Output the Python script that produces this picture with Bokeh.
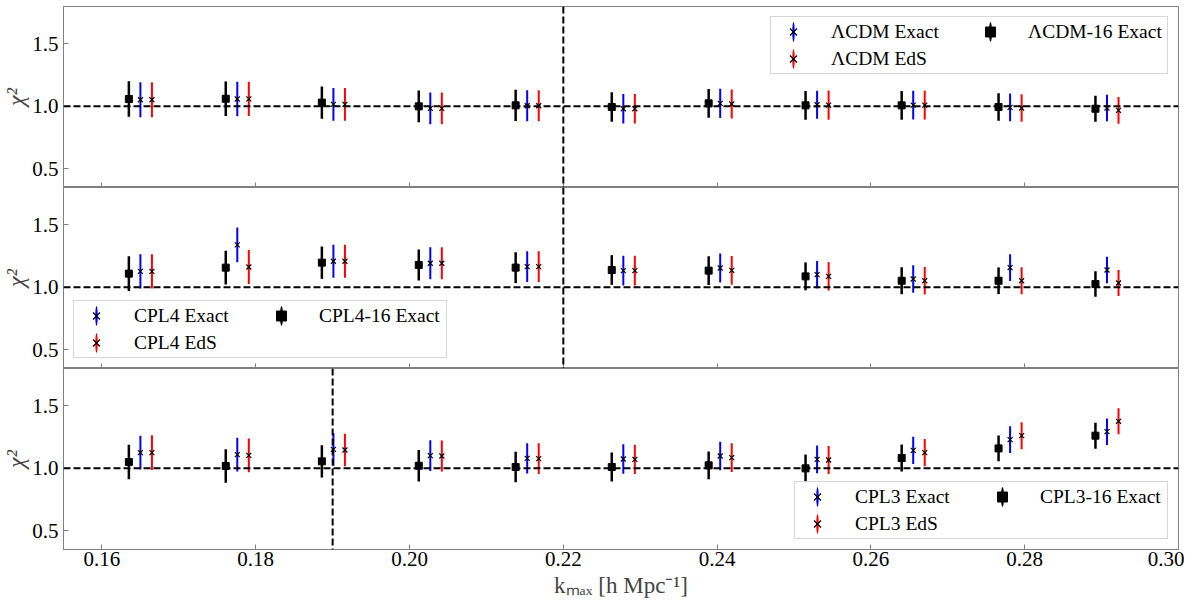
import math
from bokeh.plotting import figure
from bokeh.layouts import column
from bokeh.models import (ColumnDataSource, Span, Legend, LegendItem, FixedTicker,
                          PrintfTickFormatter, Range1d, CustomLabelingPolicy)
from bokeh.embed import file_html
from bokeh.resources import INLINE

# k_max of each group (position of the "Exact" points)
kmax = [0.1650, 0.1776, 0.1901, 0.2027, 0.2153, 0.2278,
        0.2404, 0.2530, 0.2655, 0.2781, 0.2907]
x_ticks = [0.16, 0.18, 0.20, 0.22, 0.24, 0.26, 0.28, 0.30]
y_ticks = [0.5, 1.0, 1.5]
vline_k = [0.22, 0.22, 0.19]

# LCDM
lcdm16 = [1.059, 1.061, 1.030, 1.000, 1.008, 0.995, 1.024, 1.008, 1.008, 0.995, 0.981]
lcdm16_err = [0.142, 0.138, 0.130, 0.128, 0.126, 0.119, 0.115, 0.116, 0.116, 0.110, 0.104]
lcdm_exact = [1.053, 1.059, 1.016, 0.984, 1.005, 0.981, 1.024, 1.013, 1.010, 0.992, 0.987]
lcdm_exact_err = [0.140, 0.138, 0.132, 0.127, 0.124, 0.119, 0.118, 0.112, 0.115, 0.111, 0.107]
lcdm_eds = [1.053, 1.060, 1.016, 0.984, 1.005, 0.981, 1.019, 1.010, 1.010, 0.987, 0.968]
lcdm_eds_err = [0.140, 0.138, 0.132, 0.127, 0.124, 0.119, 0.116, 0.118, 0.116, 0.110, 0.107]

# CPL4
cpl4_16 = [1.110, 1.158, 1.198, 1.179, 1.158, 1.139, 1.134, 1.088, 1.053, 1.053, 1.027]
cpl4_16_err = [0.139, 0.135, 0.130, 0.124, 0.124, 0.119, 0.115, 0.112, 0.108, 0.107, 0.103]
cpl4_exact = [1.128, 1.340, 1.209, 1.193, 1.166, 1.134, 1.155, 1.102, 1.067, 1.158, 1.139]
cpl4_exact_err = [0.138, 0.139, 0.132, 0.128, 0.123, 0.119, 0.116, 0.110, 0.110, 0.107, 0.107]
cpl4_eds = [1.128, 1.163, 1.209, 1.193, 1.166, 1.134, 1.136, 1.088, 1.053, 1.053, 1.035]
cpl4_eds_err = [0.138, 0.136, 0.132, 0.128, 0.123, 0.119, 0.115, 0.114, 0.110, 0.108, 0.104]

# CPL3
cpl3_16 = [1.051, 1.019, 1.056, 1.021, 1.011, 1.011, 1.024, 1.000, 1.083, 1.160, 1.262]
cpl3_16_err = [0.139, 0.135, 0.130, 0.126, 0.122, 0.116, 0.112, 0.111, 0.108, 0.103, 0.104]
cpl3_exact = [1.126, 1.110, 1.152, 1.102, 1.080, 1.075, 1.099, 1.072, 1.144, 1.230, 1.294]
cpl3_exact_err = [0.136, 0.136, 0.131, 0.124, 0.122, 0.119, 0.115, 0.111, 0.110, 0.107, 0.106]
cpl3_eds = [1.126, 1.104, 1.147, 1.099, 1.078, 1.072, 1.086, 1.067, 1.126, 1.262, 1.377]
cpl3_eds_err = [0.140, 0.136, 0.131, 0.124, 0.123, 0.118, 0.115, 0.112, 0.110, 0.108, 0.104]

FONT = "Liberation Serif"
GREY = "#808080"
DK = 0.0015  # horizontal shift between the three series of a group


def errbar(p, xs, ys, es, color, width):
    src = ColumnDataSource(dict(x=xs, lo=[y - e for y, e in zip(ys, es)],
                                hi=[y + e for y, e in zip(ys, es)], y=ys))
    p.segment(x0="x", y0="lo", x1="x", y1="hi", source=src,
              line_color=color, line_width=width)
    return src


def bar_proxy(p, color, width):
    # only used to draw a vertical error bar in the legend
    return p.ellipse(x=[math.nan], y=[math.nan], width=width, height=20,
                     width_units="screen", height_units="screen",
                     fill_color=color, line_color=None)


def make_panel(name, v16, e16, vex, eex, veds, eeds, vline, loc, label_w,
               top=False, bottom=False):
    p = figure(frame_width=1115, frame_height=181, output_backend="svg",
               toolbar_location=None, x_range=Range1d(0.155, 0.30),
               y_range=Range1d(0.35, 1.8), min_border=0, min_border_right=6,
               min_border_top=6 if top else 0)
    p.grid.grid_line_color = None
    p.outline_line_color = GREY
    p.outline_line_width = 1

    for ax in (p.xaxis[0], p.yaxis[0]):
        ax.axis_line_color = GREY
        ax.major_tick_line_color = GREY
        ax.minor_tick_line_color = None
        ax.major_tick_in = 5
        ax.major_tick_out = 0
        ax.major_label_text_font = FONT
        ax.major_label_text_font_size = "21px"
        ax.major_label_text_color = "black"

    p.xaxis.ticker = FixedTicker(ticks=x_ticks)
    p.xaxis.formatter = PrintfTickFormatter(format="%.2f")
    p.yaxis.ticker = FixedTicker(ticks=y_ticks)
    p.yaxis.formatter = PrintfTickFormatter(format="%.1f")
    p.yaxis.major_label_standoff = 5
    p.yaxis.axis_label = "χ²"
    p.yaxis.axis_label_text_font = FONT
    p.yaxis.axis_label_text_font_size = "24px"
    p.yaxis.axis_label_text_font_style = "italic"
    p.yaxis.axis_label_standoff = 0

    if bottom:
        p.xaxis.major_label_standoff = 2
        p.xaxis.axis_label = "kₘₐₓ [h Mpc⁻¹]"
        p.xaxis.axis_label_text_font = FONT
        p.xaxis.axis_label_text_font_size = "23px"
        p.xaxis.axis_label_text_font_style = "normal"
        p.xaxis.axis_label_standoff = 4
    else:
        # ticks only, the labels are shown under the lowest panel
        p.xaxis.major_label_policy = CustomLabelingPolicy(code="return new Set()")
        p.xaxis.major_label_text_font_size = "0px"
        p.xaxis.major_label_standoff = 0

    p.add_layout(Span(location=1.0, dimension="width", line_color="black",
                      line_width=2, line_dash="7 3"))
    p.add_layout(Span(location=vline, dimension="height", line_color="black",
                      line_width=2, line_dash="7 3"))

    x16 = [k - DK for k in kmax]
    xeds = [k + DK for k in kmax]

    errbar(p, x16, v16, e16, "black", 2.5)
    sq = p.scatter(x=x16, y=v16, marker="square", size=7, color="black")
    errbar(p, kmax, vex, eex, "blue", 2)
    x_ex = p.scatter(x=kmax, y=vex, marker="x", size=7, line_color="black", line_width=1.2)
    errbar(p, xeds, veds, eeds, "red", 2)
    x_eds = p.scatter(x=xeds, y=veds, marker="x", size=7, line_color="black", line_width=1.2)

    pb = bar_proxy(p, "blue", 2.5)
    pr = bar_proxy(p, "red", 2.5)
    pk = bar_proxy(p, "black", 3)

    legend = Legend(items=[
        LegendItem(label=name + " Exact", renderers=[pb, x_ex]),
        LegendItem(label=name + " EdS", renderers=[pr, x_eds]),
        LegendItem(label=name + "-16 Exact", renderers=[pk, sq]),
    ], location=loc, ncols=2, margin=10, padding=2, spacing=2,
        glyph_width=40, glyph_height=25, label_standoff=18, label_width=label_w,
        label_text_font=FONT, label_text_font_size="19.5px", label_text_color="black",
        border_line_color="#cccccc", border_line_alpha=0.8,
        background_fill_color="white", background_fill_alpha=0.8)
    p.add_layout(legend)
    return p


p1 = make_panel("ΛCDM", lcdm16, lcdm16_err, lcdm_exact, lcdm_exact_err,
                lcdm_eds, lcdm_eds_err, vline_k[0], "top_right", 137, top=True)
p2 = make_panel("CPL4", cpl4_16, cpl4_16_err, cpl4_exact, cpl4_exact_err,
                cpl4_eds, cpl4_eds_err, vline_k[1], "bottom_left", 125)
p3 = make_panel("CPL3", cpl3_16, cpl3_16_err, cpl3_exact, cpl3_exact_err,
                cpl3_eds, cpl3_eds_err, vline_k[2], "bottom_right", 125, bottom=True)

layout = column(p1, p2, p3, spacing=0)
open("out.html", "w").write(file_html(layout, INLINE))
